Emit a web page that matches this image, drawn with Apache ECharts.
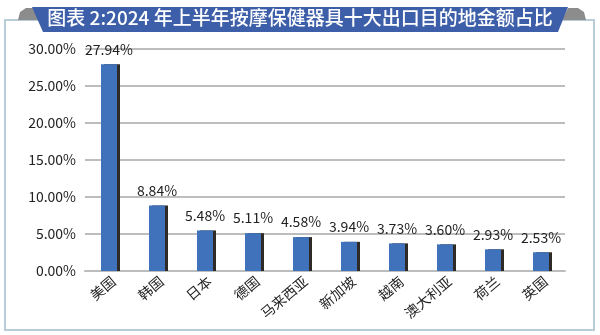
<!DOCTYPE html>
<html><head><meta charset="utf-8">
<script src="https://cdn.jsdelivr.net/npm/echarts@6/dist/echarts.min.js"></script>
<style>html,body{margin:0;padding:0;background:#fff}#c{width:600px;height:335px}</style>
</head><body><div id="c"></div>
<script>
const titleText = '图表 2:2024 年上半年按摩保健器具十大出口目的地金额占比';
const categories = ['美国','韩国','日本','德国','马来西亚','新加坡','越南','澳大利亚','荷兰','英国'];
const values = [27.94, 8.84, 5.48, 5.11, 4.58, 3.94, 3.73, 3.60, 2.93, 2.53];
const yTicks = [0, 5, 10, 15, 20, 25, 30];

const font = '"Noto Sans CJK SC", "Noto Sans", sans-serif';
const chart = echarts.init(document.getElementById('c'), null, {renderer:'canvas'});
chart.setOption({
  backgroundColor: '#fff',
  animation: false,
  graphic: [
    {type:'rect', shape:{x:5,y:20,width:589,height:310}, style:{fill:'none', stroke:'#b9cdd9', lineWidth:2}, z:0},
    {type:'polygon', shape:{points:[[18,20],[20,12],[26,8],[33,8],[42,20]]}, style:{fill:'#8c8c8c'}, z:1},
    {type:'polygon', shape:{points:[[562,20],[568,8],[578,8],[584,12],[586,20]]}, style:{fill:'#8c8c8c'}, z:1},
    {type:'polygon', shape:{points:[[32,7],[568,7],[558,32],[43,32]]}, style:{fill:'#3d5ea8'}, z:2},
    {type:'text', left:'center', top:8, style:{text:titleText, fill:'#fff', font:'500 19px '+font}, z:3}
  ],
  grid: {left:85, right:35, top:49, bottom:64},
  xAxis: {
    type:'category', data:categories,
    axisLine:{show:true, lineStyle:{color:'#bdbdbd', width:2}},
    axisTick:{show:false},
    axisLabel:{rotate:40, interval:0, color:'#222', fontSize:14, fontFamily:font, margin:12,
      padding:[0,-6,0,0]}
  },
  yAxis: {
    type:'value', min:0, max:30, interval:5,
    axisLine:{show:false}, axisTick:{show:false},
    splitLine:{lineStyle:{color:'#bdbdbd', width:2}},
    axisLabel:{color:'#222', fontSize:14, fontFamily:font, margin:9,
      formatter: v => yTicks.includes(v) ? v.toFixed(2)+'%' : ''}
  },
  series: [{
    type:'bar', data:values, barWidth:16,
    itemStyle:{color:'#4072bb', shadowColor:'#2e2a26', shadowOffsetX:3, shadowOffsetY:0, shadowBlur:0},
    label:{show:true, position:'top', distance:8, color:'#222', fontSize:14, fontFamily:font,
      formatter: p => p.value.toFixed(2)+'%'}
  }]
});
</script></body></html>
